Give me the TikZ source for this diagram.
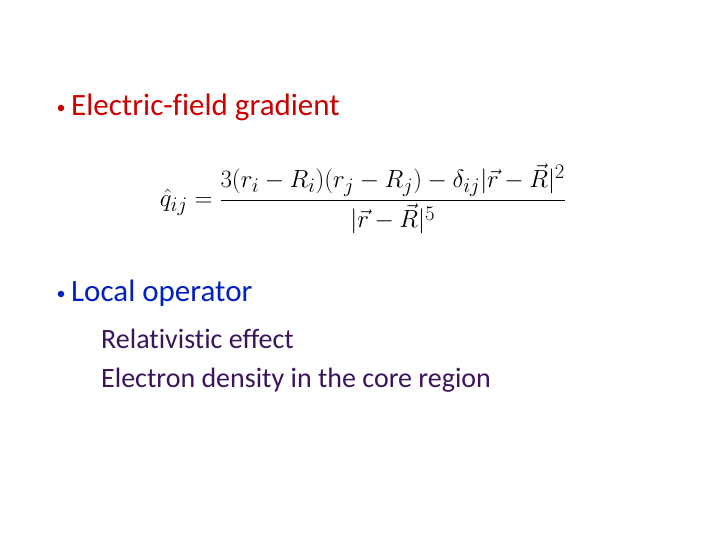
\documentclass[tikz,border=0pt]{standalone}
\usepackage{amsmath}
\usepackage{fontspec}
\setmainfont[Ligatures=NoCommon]{Carlito}
\definecolor{redt}{RGB}{204,0,0}
\definecolor{bluet}{RGB}{0,32,192}
\definecolor{subt}{RGB}{60,20,90}
\begin{document}
\begin{tikzpicture}[x=1pt,y=-1pt,
  head/.style={anchor=west,font=\fontsize{31}{36}\selectfont,inner sep=0},
  dot/.style={circle,inner sep=0,minimum size=6.5pt},
  sub/.style={anchor=west,font=\fontsize{28}{32}\selectfont,text=subt,inner sep=0}]
\useasboundingbox[fill=white] (0,0) rectangle (720,540);
\node[dot,fill=redt] (d1) at (61,108) {};
\node[head,text=redt] (b1) at (71,107) {Electric-field gradient};
\node[anchor=center,inner sep=0,font=\fontsize{27.2}{32}\selectfont] (f) at (363,199)
 {$\hat q_{ij}=\dfrac{3(r_i-R_i)(r_j-R_j)-\delta_{ij}|\vec r-\vec R|^2}{|\vec r-\vec R|^5}$};
\node[dot,fill=bluet] (d2) at (61,294) {};
\node[head,text=bluet] (b2) at (71,293) {Local operator};
\node[sub] (s1) at (101,339) {Relativistic effect};
\node[sub] (s2) at (101,380) {Electron density in the core region};
\end{tikzpicture}
\end{document}
